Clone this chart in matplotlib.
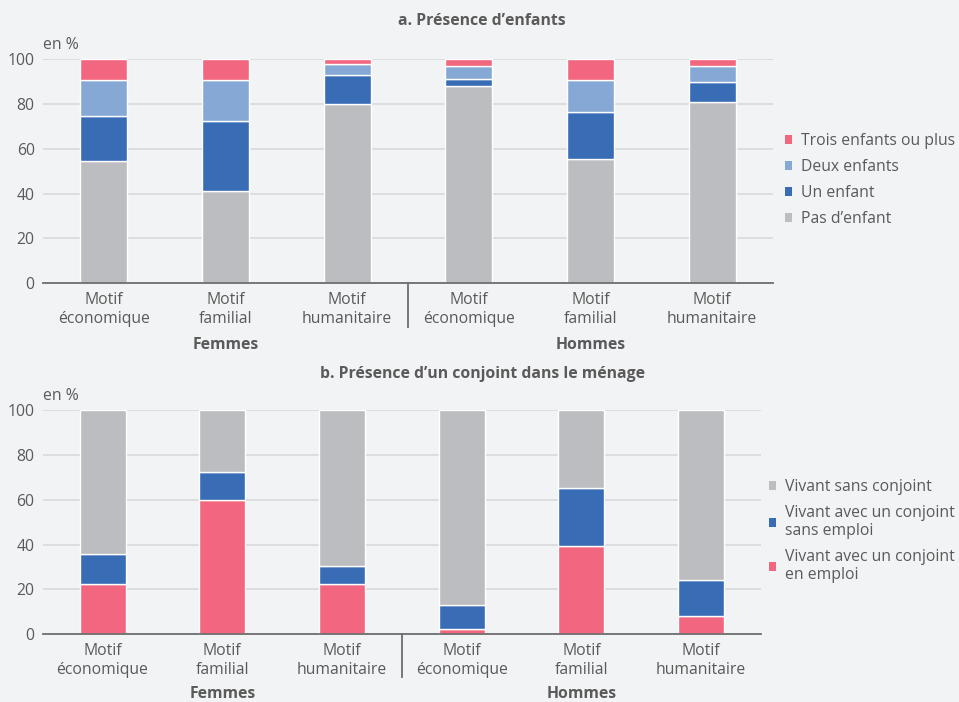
import matplotlib
matplotlib.use("Agg")
import matplotlib.pyplot as plt
from matplotlib.patches import Patch
import numpy as np

plt.rcParams['font.family'] = ['Open Sans', 'DejaVu Sans']

categories = ["Motif\néconomique", "Motif\nfamilial", "Motif\nhumanitaire",
              "Motif\néconomique", "Motif\nfamilial", "Motif\nhumanitaire"]
groups = ["Femmes", "Hommes"]

# Panel a : présence d'enfants (en %)
pas_enfant = [54.7, 41.3, 80.1, 87.8, 55.4, 80.8]
un_enfant = [19.8, 31.1, 12.6, 3.4, 21.0, 9.1]
deux_enfants = [16.0, 18.1, 4.9, 5.7, 14.1, 7.0]
trois_plus = [9.5, 9.5, 2.2, 3.1, 9.5, 3.1]

# Panel b : présence d'un conjoint (en %)
conj_emploi = [22.3, 59.7, 22.3, 2.2, 39.2, 8.0]
conj_sans_emploi = [13.4, 12.8, 8.3, 10.7, 26.2, 16.3]
sans_conjoint = [64.3, 27.5, 69.4, 87.1, 34.6, 75.7]

BG = "#F2F3F5"
PINK = "#F2667F"
LBLUE = "#86A8D5"
BLUE = "#386CB5"
GREY = "#BCBDC0"
TXT = "#5A5A5A"
FS = 11.3
W, H = 959, 702

fig = plt.figure(figsize=(W / 100, H / 100), dpi=100, facecolor=BG)


def make_ax(l, r, b, t):
    ax = fig.add_axes([l / W, 1 - b / H, (r - l) / W, (b - t) / H])
    ax.set_facecolor(BG)
    for s in ["top", "right", "left"]:
        ax.spines[s].set_visible(False)
    ax.spines["bottom"].set_color("#6E6E6E")
    ax.spines["bottom"].set_linewidth(1.3)
    ax.set_ylim(0, 100)
    ax.set_xlim(-0.5, 5.5)
    ax.set_yticks([0, 20, 40, 60, 80, 100])
    ax.tick_params(axis="y", length=0, pad=6, labelsize=FS, labelcolor=TXT)
    ax.tick_params(axis="x", length=0, pad=6.5, labelsize=FS, labelcolor=TXT)
    ax.yaxis.grid(True, color="#DADBDD", linewidth=1.3)
    ax.set_axisbelow(True)
    x = np.arange(6)
    ax.set_xticks(x)
    ax.set_xticklabels(categories, linespacing=1.2)
    return ax


def decorate(ax, sep_len, group_y):
    ax.plot([2.5, 2.5], [0, -sep_len], color="#6E6E6E", lw=1.3, clip_on=False)
    ax.text(1, group_y, groups[0], ha="center", va="center", fontsize=FS,
            fontweight="bold", color=TXT, transform=ax.transData, clip_on=False)
    ax.text(4, group_y, groups[1], ha="center", va="center", fontsize=FS,
            fontweight="bold", color=TXT, transform=ax.transData, clip_on=False)
    ax.text(-0.5, 102.5, "en %", ha="left", va="bottom", fontsize=FS, color=TXT)


# ---- Panel a
axa = make_ax(43, 773, 283.3, 59)
x = np.arange(6)
bw = 0.384
kw = dict(width=bw, edgecolor="white", linewidth=1.0)
bottom = np.zeros(6)
series_a = [(pas_enfant, GREY, "Pas d’enfant"), (un_enfant, BLUE, "Un enfant"),
            (deux_enfants, LBLUE, "Deux enfants"), (trois_plus, PINK, "Trois enfants ou plus")]
for vals, col, lab in series_a:
    axa.bar(x, vals, bottom=bottom, color=col, **kw)
    bottom += np.array(vals)
decorate(axa, 19.6, -27.3)
fig.text(482 / W, 1 - 21 / H, "a. Présence d’enfants", ha="center", va="center",
         fontsize=11.3, fontweight="bold", color=TXT)
handles_a = [Patch(facecolor=c, label=l) for _, c, l in series_a[::-1]]
la = fig.legend(handles=handles_a, loc="upper left", bbox_to_anchor=(785 / W, 1 - 133 / H),
                frameon=False, fontsize=FS, handlelength=0.45, handleheight=0.45,
                handletextpad=0.55, labelspacing=0.64, borderaxespad=0, borderpad=0)
for t in la.get_texts():
    t.set_color(TXT)

# ---- Panel b
axb = make_ax(42.7, 761, 634.3, 410)
bottom = np.zeros(6)
series_b = [(conj_emploi, PINK, "Vivant avec un conjoint\nen emploi"),
            (conj_sans_emploi, BLUE, "Vivant avec un conjoint\nsans emploi"),
            (sans_conjoint, GREY, "Vivant sans conjoint")]
for vals, col, lab in series_b:
    axb.bar(x, vals, bottom=bottom, color=col, **kw)
    bottom += np.array(vals)
decorate(axb, 19.0, -26.8)
fig.text(482 / W, 1 - 374 / H, "b. Présence d’un conjoint dans le ménage", ha="center",
         va="center", fontsize=11.3, fontweight="bold", color=TXT)
handles_b = [Patch(facecolor=c, label=l) for _, c, l in series_b[::-1]]
lb = fig.legend(handles=handles_b, loc="upper left", bbox_to_anchor=(769 / W, 1 - 479 / H),
                frameon=False, fontsize=FS, handlelength=0.45, handleheight=0.45,
                handletextpad=0.55, labelspacing=0.62, borderaxespad=0, borderpad=0,
                alignment="left")
for t in lb.get_texts():
    t.set_color(TXT)
    t.set_linespacing(1.2)

fig.savefig("out.png", dpi=100, facecolor=BG)
